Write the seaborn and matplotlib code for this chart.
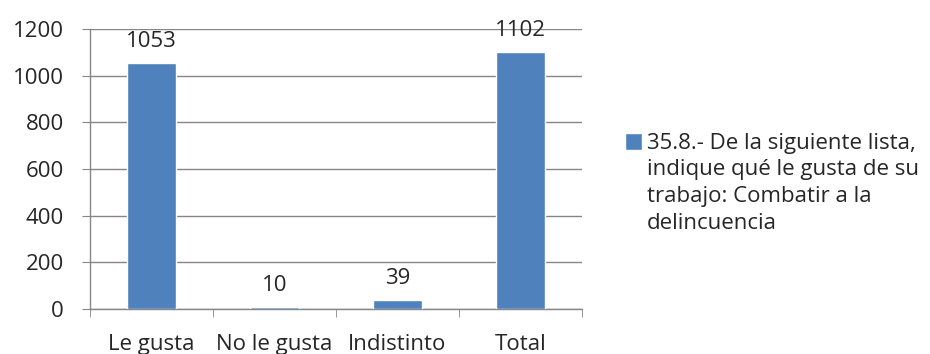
import numpy as np
import pandas as pd
import matplotlib
matplotlib.use('Agg')
import matplotlib.pyplot as plt
import seaborn as sns

categorias = ['Le gusta', 'No le gusta', 'Indistinto', 'Total']
valores = [1053, 10, 39, 1102]
serie_lineas = ['35.8.- De la siguiente lista,', 'indique qué le gusta de su',
                'trabajo: Combatir a la', 'delincuencia']
yticks = [0, 200, 400, 600, 800, 1000, 1200]

sns.set_style('white')
plt.rcParams['font.family'] = ['Open Sans', 'DejaVu Sans']
fs = 16

df = pd.DataFrame({'cat': categorias, 'val': valores})

fig = plt.figure(figsize=(9.3, 3.54), dpi=100)
ax = fig.add_axes([90/930, 1-309/354, (582-90)/930, (309-29)/354])

sns.barplot(data=df, x='cat', y='val', color='#4F81BD', width=0.4,
            saturation=1, label=serie_lineas[0], ax=ax, zorder=3)
ax.bar_label(ax.containers[0], fontsize=fs, padding=8)

ax.set_ylim(0, 1200)
ax.set_xlim(-0.5, 3.5)
ax.set_yticks(yticks)
ax.set_xlabel('')
ax.set_ylabel('')
ax.yaxis.grid(True, color='#868686', lw=1, zorder=0)
ax.set_axisbelow(True)

for s in ['top', 'right']:
    ax.spines[s].set_visible(False)
for s in ['left', 'bottom']:
    ax.spines[s].set_color('#868686')
    ax.spines[s].set_linewidth(1)

ax.tick_params(axis='y', length=5.8, color='#868686', labelsize=fs, pad=13, direction='out', left=True)
ax.tick_params(axis='x', which='major', length=0, labelsize=fs, pad=18)
ax.set_xticks(np.arange(-0.5, 4, 1), minor=True)
ax.tick_params(axis='x', which='minor', length=5.8, color='#868686', direction='out', bottom=True)

# legend: first line next to the square, the rest of the wrapped label below
leg = ax.legend(loc='upper left', bbox_to_anchor=(625/930, 1-133/354), bbox_transform=fig.transFigure,
                frameon=False, fontsize=fs, handlelength=0.77, handleheight=0.77,
                handletextpad=0.22, borderpad=0, borderaxespad=0)
for i, linea in enumerate(serie_lineas[1:]):
    fig.text(647/930, 1-(175 + 27*i)/354, linea, fontsize=fs, va='baseline', ha='left')

fig.savefig('out.png', dpi=100)
